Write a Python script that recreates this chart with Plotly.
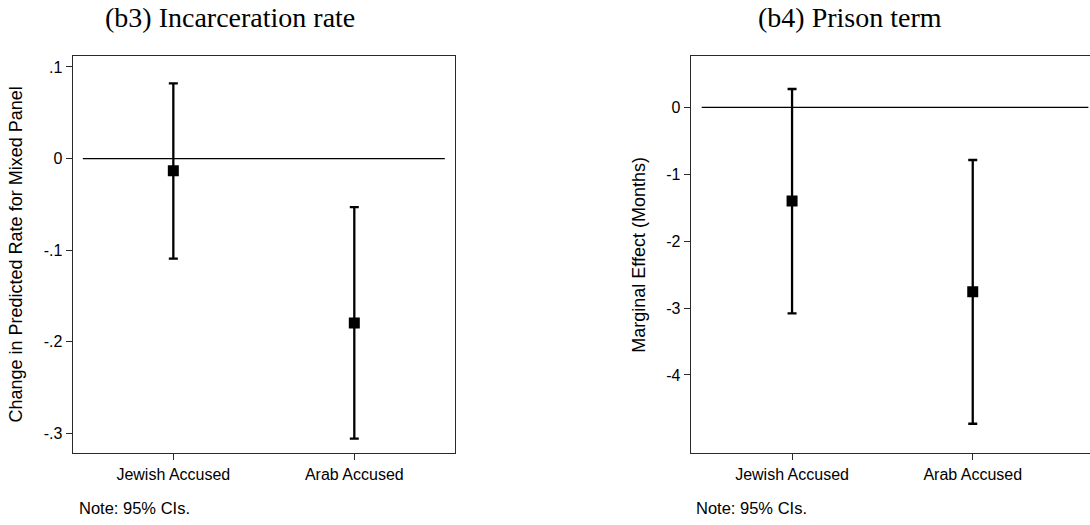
import plotly.graph_objects as go

# Groups shown on both panels
categories = ["Jewish Accused", "Arab Accused"]

# Panel b3: change in predicted incarceration rate (mixed panel), 95% CIs
incar_est = [-0.0134, -0.1796]
incar_lo = [-0.1093, -0.306]
incar_hi = [0.082, -0.0531]
incar_ticks = [0.1, 0, -0.1, -0.2, -0.3]
incar_ticktext = [".1", "0", "-.1", "-.2", "-.3"]

# Panel b4: marginal effect on prison term in months, 95% CIs
prison_est = [-1.40, -2.756]
prison_lo = [-3.08, -4.73]
prison_hi = [0.274, -0.788]
prison_ticks = [0, -1, -2, -3, -4]
prison_ticktext = ["0", "-1", "-2", "-3", "-4"]

W, H = 1090, 525
SANS = "Liberation Sans, Arial, Helvetica, sans-serif"
SERIF = "Liberation Serif, Times New Roman, serif"
xpos = list(range(len(categories)))

fig = go.Figure()


def add_panel(est, lo, hi, xa, ya, line_end):
    # reference line at zero
    fig.add_trace(go.Scatter(
        x=[-0.5, line_end], y=[0, 0], mode="lines",
        line=dict(color="black", width=1.3),
        xaxis=xa, yaxis=ya, showlegend=False, hoverinfo="skip"))
    # point estimates with capped confidence intervals
    fig.add_trace(go.Scatter(
        x=xpos, y=est, mode="markers",
        marker=dict(symbol="square", size=11, color="black"),
        error_y=dict(type="data", symmetric=False,
                     array=[h - e for h, e in zip(hi, est)],
                     arrayminus=[e - l for e, l in zip(est, lo)],
                     color="black", thickness=2.3, width=4.5),
        xaxis=xa, yaxis=ya, showlegend=False))


add_panel(incar_est, incar_lo, incar_hi, "x", "y", 1.5)
add_panel(prison_est, prison_lo, prison_hi, "x2", "y2", 1.64)

ydom = [1 - 453.3 / H, 1 - 56 / H]
axis_common = dict(showgrid=False, zeroline=False, showline=True,
                   linecolor="#2a2a2a", linewidth=1.2,
                   ticks="outside", ticklen=6, tickwidth=1, tickcolor="#2a2a2a",
                   tickfont=dict(family=SANS, size=16, color="black"))

fig.update_layout(
    width=W, height=H,
    margin=dict(l=0, r=0, t=0, b=0),
    plot_bgcolor="white", paper_bgcolor="white",
    showlegend=False,
    xaxis=dict(domain=[72.7 / W, 455.3 / W], range=[-0.556, 1.558],
               tickvals=xpos, ticktext=categories, mirror=True, **axis_common),
    yaxis=dict(domain=ydom, range=[-0.322, 0.112],
               tickvals=incar_ticks, ticktext=incar_ticktext, mirror=True, **axis_common),
    xaxis2=dict(domain=[690.7 / W, 1.0], range=[-0.561, 1.649], anchor="y2",
                tickvals=xpos, ticktext=categories, mirror=True, **axis_common),
    yaxis2=dict(domain=ydom, range=[-5.172, 0.767], anchor="x2",
                tickvals=prison_ticks, ticktext=prison_ticktext, mirror=False, **axis_common),
)

annotations = [
    dict(text="(b3) Incarceration rate", x=229.6 / W, y=1 - 18 / H,
         font=dict(family=SERIF, size=28, color="black")),
    dict(text="(b4) Prison term", x=850 / W, y=1 - 18 / H,
         font=dict(family=SERIF, size=28, color="black")),
    dict(text="Change in Predicted Rate for Mixed Panel", x=16 / W, y=1 - 254.5 / H,
         textangle=-90, font=dict(family=SANS, size=18, color="black")),
    dict(text="Marginal Effect (Months)", x=639.3 / W, y=1 - 254.5 / H,
         textangle=-90, font=dict(family=SANS, size=18, color="black")),
    dict(text="Note: 95% CIs.", x=76.7 / W, y=1 - 508 / H, xanchor="left",
         font=dict(family=SANS, size=16.5, color="black")),
    dict(text="Note: 95% CIs.", x=694.3 / W, y=1 - 508 / H, xanchor="left",
         font=dict(family=SANS, size=16.5, color="black")),
]
for a in annotations:
    a.setdefault("xanchor", "center")
    a.update(xref="paper", yref="paper", yanchor="middle", showarrow=False)
fig.update_layout(annotations=annotations)

fig.write_html("out.html")
